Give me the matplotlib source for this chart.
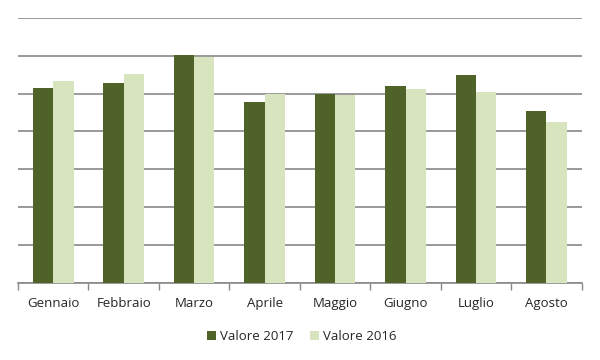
import matplotlib
matplotlib.use("Agg")
import matplotlib.pyplot as plt
import numpy as np

categories = ["Gennaio", "Febbraio", "Marzo", "Aprile", "Maggio", "Giugno", "Luglio", "Agosto"]
valore_2017 = [5.15, 5.28, 6.02, 4.79, 5.00, 5.20, 5.49, 4.54]
valore_2016 = [5.33, 5.52, 5.98, 4.99, 4.97, 5.12, 5.04, 4.26]
series_names = ["Valore 2017", "Valore 2016"]

plt.rcParams['font.family'] = ['Open Sans', 'DejaVu Sans']

fig = plt.figure(figsize=(6, 3.6), dpi=100)
ax = fig.add_axes([0.03, 0.2147, 0.9395, 0.7353])

x = np.arange(len(categories))
w = 0.288
dark = "#4F6228"
light = "#D7E4BD"
ax.bar(x - w/2, valore_2017, width=w, color=dark, label=series_names[0], zorder=3)
ax.bar(x + w/2, valore_2016, width=w, color=light, label=series_names[1], zorder=3)

ax.set_xlim(-0.5, len(categories) - 0.5)
ax.set_ylim(0, 7)
ax.set_yticks(np.arange(0, 8))
ax.yaxis.grid(True, color="#898989", linewidth=1.2, zorder=0)
ax.tick_params(axis='y', left=False, labelleft=False)

ax.set_xticks(x)
ax.set_xticklabels(categories, fontsize=9.5)
ax.set_xticks(np.arange(-0.5, len(categories)), minor=True)
ax.tick_params(axis='x', which='major', length=0, pad=10, colors='#262626')
ax.tick_params(axis='x', which='minor', length=5, width=1, color="#898989")

for s in ['left', 'right', 'top']:
    ax.spines[s].set_visible(False)
ax.spines['bottom'].set_color("#898989")
ax.spines['bottom'].set_linewidth(1.2)

fig.legend(loc='center', bbox_to_anchor=(0.503, 0.066), ncol=2, frameon=False,
           fontsize=9.5, handlelength=0.7, handleheight=0.7, handletextpad=0.3,
           columnspacing=1.2, labelcolor='#262626')

fig.savefig("out.png", dpi=100)
